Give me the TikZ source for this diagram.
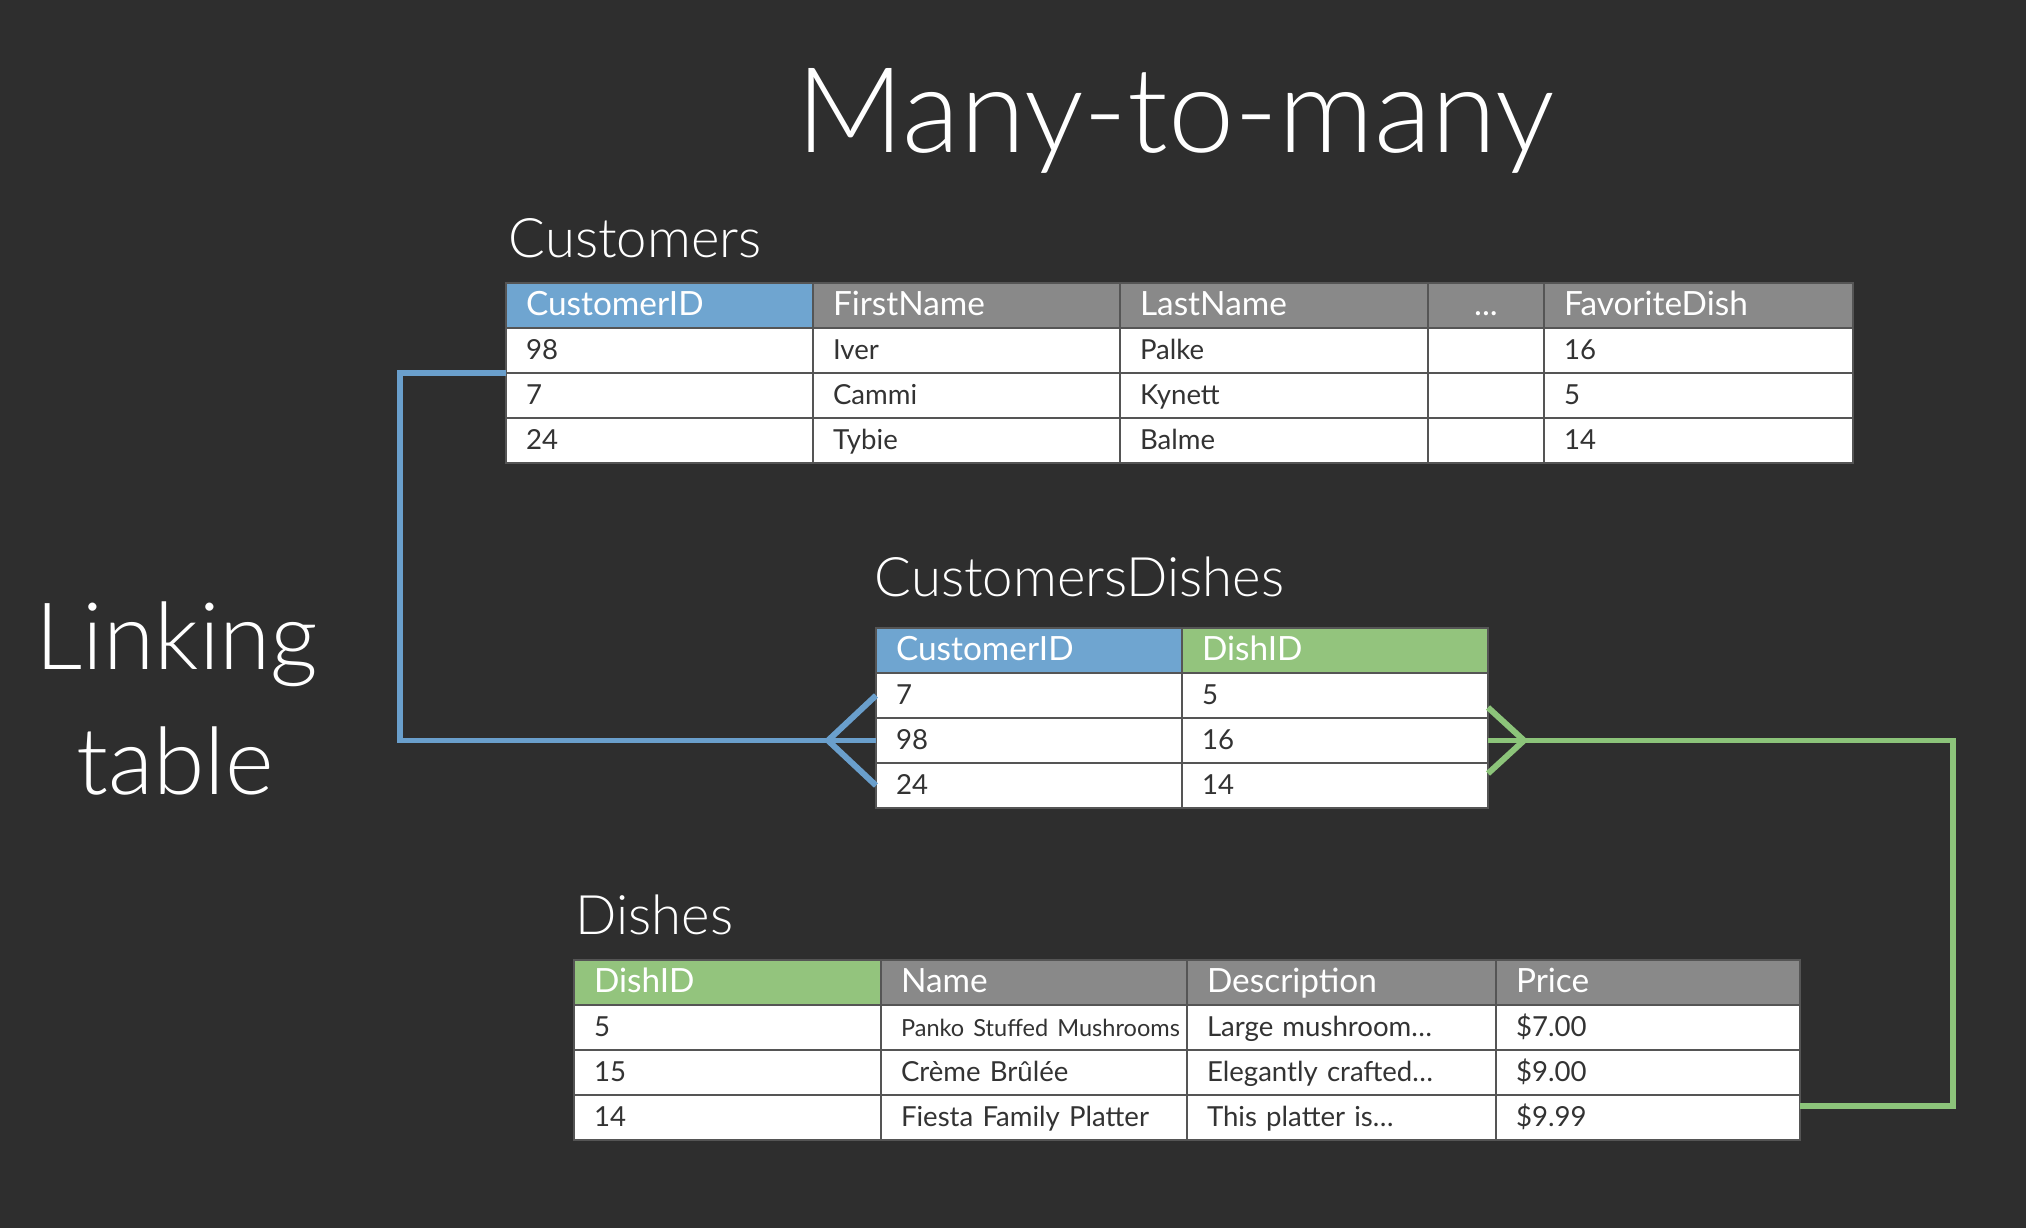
\documentclass[tikz,border=0pt]{standalone}
\usepackage{fontspec}
\setmainfont{Lato}
\newfontfamily\lightfont{Lato Light}
\usetikzlibrary{positioning}
\definecolor{bgc}{HTML}{2E2E2E}
\definecolor{hdgray}{HTML}{898989}
\definecolor{keyblue}{HTML}{6FA5D0}
\definecolor{keygreen}{HTML}{93C47D}
\definecolor{linkblue}{HTML}{6A9FCC}
\definecolor{linkgreen}{HTML}{8CC47A}
\definecolor{celltext}{HTML}{333333}
\definecolor{cellline}{HTML}{555555}
\newcommand{\smallname}{\fontsize{6.7}{8}\selectfont}
\tikzset{
    % table cells
    cell/.style = {draw=cellline, line width=0.8pt, fill=white, text=celltext, outer sep=0pt, inner xsep=0.2cm,
        text width=#1, align=left, minimum height=0.45cm, text height=0.19cm, text depth=0pt,
        font=\fontsize{7.85}{9}\selectfont},
    hdr/.style = {cell=#1, fill=hdgray, text=white, text height=0.21cm, font=\fontsize{9.5}{11}\selectfont},
    hdr_blue/.style = {hdr=#1, fill=keyblue},
    hdr_green/.style = {hdr=#1, fill=keygreen},
    % captions
    lbl/.style = {white, inner sep=0pt, anchor=base west, font=\lightfont\fontsize{15.5}{18}\selectfont},
    big_lbl/.style = {white, inner sep=0pt, anchor=base, font=\lightfont\fontsize{26.5}{30}\selectfont},
    % connectors
    link_blue/.style = {draw=linkblue, line width=1.7pt},
    link_green/.style = {draw=linkgreen, line width=1.7pt}
}

\begin{document}
\begin{tikzpicture}[title/.style = {white, inner sep=0pt, anchor=base west, font=\lightfont\fontsize{33.8}{40}\selectfont}]

    \useasboundingbox (0,0) rectangle (20.26,-12.28);
    \fill[bgc] (0,0) rectangle (20.26,-12.28);

    \node[title] (title) at (7.96,-1.53) {Many-to-many};
    \node[big_lbl] (link1) at (1.77,-6.70) {Linking};
    \node[big_lbl] (link2) at (1.75,-7.95) {table};

    % Customers
    \node[lbl] (cust_lbl) at (5.08,-2.58) {Customers};
    \node[hdr_blue=2.67cm, anchor=north west] (c_h1) at (5.06,-2.83) {CustomerID};
    \node[hdr=2.67cm, right=0pt of c_h1] (c_h2) {FirstName};
    \node[hdr=2.68cm, right=0pt of c_h2] (c_h3) {LastName};
    \node[hdr=0.76cm, align=center, right=0pt of c_h3] (c_h4) {...};
    \node[hdr=2.69cm, right=0pt of c_h4] (c_h5) {FavoriteDish};
    \foreach \a/\b/\c/\d [count=\r] in {98/Iver/Palke/16, 7/Cammi/Kynett/5, 24/Tybie/Balme/14}{
        \node[cell=2.67cm, anchor=north west] (c_r\r_1) at (5.06,-2.83-0.45*\r) {\a};
        \node[cell=2.67cm, right=0pt of c_r\r_1] (c_r\r_2) {\b};
        \node[cell=2.68cm, right=0pt of c_r\r_2] (c_r\r_3) {\c};
        \node[cell=0.76cm, right=0pt of c_r\r_3] (c_r\r_4) {};
        \node[cell=2.69cm, right=0pt of c_r\r_4] (c_r\r_5) {\d};
    }

    % CustomersDishes (linking table)
    \node[lbl] (cd_lbl) at (8.74,-5.97) {CustomersDishes};
    \node[hdr_blue=2.66cm, anchor=north west] (cd_h1) at (8.76,-6.28) {CustomerID};
    \node[hdr_green=2.66cm, right=0pt of cd_h1] (cd_h2) {DishID};
    \foreach \a/\b [count=\r] in {7/5, 98/16, 24/14}{
        \node[cell=2.66cm, anchor=north west] (cd_r\r_1) at (8.76,-6.28-0.45*\r) {\a};
        \node[cell=2.66cm, right=0pt of cd_r\r_1] (cd_r\r_2) {\b};
    }

    % Dishes
    \node[lbl] (d_lbl) at (5.75,-9.35) {Dishes};
    \node[hdr_green=2.67cm, anchor=north west] (d_h1) at (5.74,-9.60) {DishID};
    \node[hdr=2.66cm, right=0pt of d_h1] (d_h2) {Name};
    \node[hdr=2.69cm, right=0pt of d_h2] (d_h3) {Description};
    \node[hdr=2.64cm, right=0pt of d_h3] (d_h4) {Price};
    \foreach \a/\b/\c/\d [count=\r] in {5/{\smallname\mbox{Panko Stuffed Mushrooms}}/Large mushroom\dots/\$7.00,
        15/Crème Brûlée/Elegantly crafted\dots/\$9.00, 14/Fiesta Family Platter/This platter is\dots/\$9.99}{
        \node[cell=2.67cm, anchor=north west] (d_r\r_1) at (5.74,-9.60-0.45*\r) {\a};
        \node[cell=2.66cm, right=0pt of d_r\r_1] (d_r\r_2) {\b};
        \node[cell=2.69cm, right=0pt of d_r\r_2] (d_r\r_3) {\c};
        \node[cell=2.64cm, right=0pt of d_r\r_3] (d_r\r_4) {\d};
    }

    % connectors
    \draw[link_blue] (c_r1_1.south west) -- ++(-1.06,0) |- (cd_r2_1.west);
    \draw[link_blue] ([yshift=0.45cm]cd_r2_1.west) -- ([xshift=-0.48cm]cd_r2_1.west) -- ([yshift=-0.45cm]cd_r2_1.west);
    \draw[link_green] (cd_r2_2.east) -- ++(4.65,0) |- ([yshift=-0.11cm]d_r3_4.north east);
    \draw[link_green] ([yshift=0.33cm]cd_r2_2.east) -- ([xshift=0.36cm]cd_r2_2.east) -- ([yshift=-0.33cm]cd_r2_2.east);

\end{tikzpicture}
\end{document}
